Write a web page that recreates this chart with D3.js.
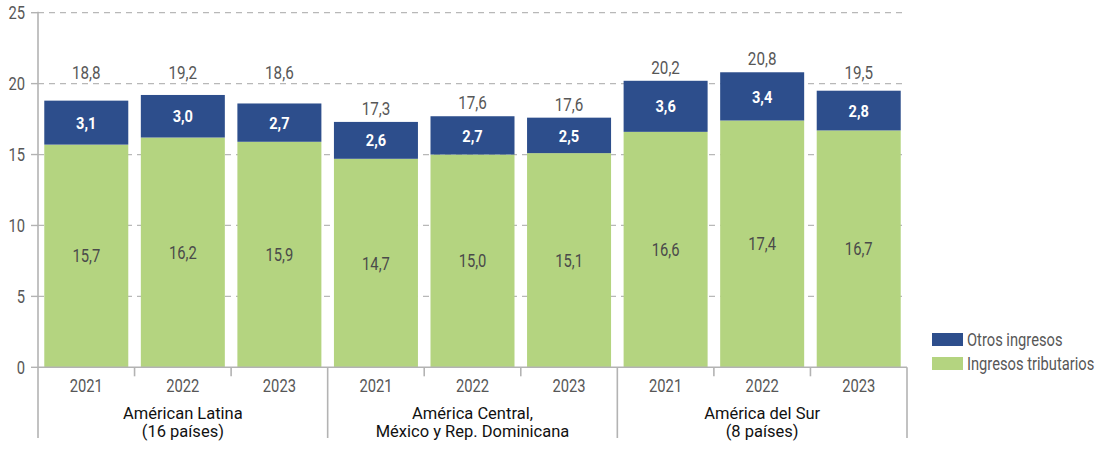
<!DOCTYPE html>
<html>
<head>
<meta charset="utf-8">
<script src="https://cdn.jsdelivr.net/npm/d3@7"></script>
<style>
  html, body { margin: 0; padding: 0; background: #fff; }
  svg { display: block; }
  .num { font-family: "Roboto", "Liberation Sans", sans-serif; }
  .grp { font-family: "Roboto", "Liberation Sans", sans-serif; }
</style>
</head>
<body>
<svg id="chart" width="1118" height="449"></svg>
<script>
// Regional groups and the years shown for each
const groups = [
  ["Américan Latina", "(16 países)"],
  ["América Central,", "México y Rep. Dominicana"],
  ["América del Sur", "(8 países)"]
];
const years = ["2021", "2022", "2023"];

// Values per bar (group order, then year order), % of GDP
const tributarios = [15.7, 16.2, 15.9, 14.7, 15.0, 15.1, 16.6, 17.4, 16.7];
const otros       = [3.1, 3.0, 2.7, 2.6, 2.7, 2.5, 3.6, 3.4, 2.8];
const totales     = [18.8, 19.2, 18.6, 17.3, 17.6, 17.6, 20.2, 20.8, 19.5];

const yTicks = [0, 5, 10, 15, 20, 25];
const seriesNames = ["Otros ingresos", "Ingresos tributarios"];

const colBlue = "#2d4e8c";
const colGreen = "#b4d480";
const colText = "#575757";
const colAxis = "#b3b3b3";

const fmt = v => d3.format(".1f")(v).replace(".", ",");

// Narrow numeric text: placed with a transform and squeezed horizontally
function narrow(sel, xf, yf, sx) {
  sel.attr("x", 0).attr("y", 0)
    .attr("transform", (d, i) => `translate(${xf(d, i)},${yf(d, i)}) scale(${sx},1)`);
}

const svg = d3.select("#chart");
const x0 = 38, x1 = 907, yBottom = 367.3, yTop = 12.7;

const rows = tributarios.map((t, i) => ({
  key: groups[Math.floor(i / 3)][0] + "|" + years[i % 3],
  year: years[i % 3],
  trib: t, otros: otros[i], total: totales[i]
}));

const xStep = d3.scaleBand().domain(rows.map(d => d.key)).range([x0, x1]).padding(0);
const xBar = d3.scaleBand().domain(rows.map(d => d.key)).range([x0, x1])
  .paddingInner(0.13).paddingOuter(0.065);
const y = d3.scaleLinear().domain([0, 25]).range([yBottom, yTop]);
const cx = d => xBar(d.data.key) + xBar.bandwidth() / 2;

// Dashed gridlines (behind bars)
svg.append("g").selectAll("line").data(yTicks.filter(v => v > 0)).join("line")
  .attr("x1", x0).attr("x2", x1 - 2)
  .attr("y1", d => y(d)).attr("y2", d => y(d))
  .attr("stroke", "#b8b8b8").attr("stroke-width", 1.3)
  .attr("stroke-dasharray", "6,5");

// Stacked bars
const stack = d3.stack().keys(["trib", "otros"]);
const layers = stack(rows);
const colors = { trib: colGreen, otros: colBlue };
svg.append("g").selectAll("g").data(layers).join("g")
  .attr("fill", d => colors[d.key])
  .selectAll("rect").data(d => d).join("rect")
  .attr("x", d => xBar(d.data.key))
  .attr("width", xBar.bandwidth())
  .attr("y", d => y(d[1]))
  .attr("height", d => y(d[0]) - y(d[1]));

// Segment labels
const lab = svg.append("g").attr("class", "num").attr("text-anchor", "middle");
lab.selectAll("text.tr").data(layers[0]).join("text")
  .attr("class", "tr").attr("dy", "0.36em")
  .attr("font-size", 18).attr("fill", "#4a4a4a")
  .text(d => fmt(d.data.trib))
  .call(narrow, cx, d => (y(d[0]) + y(d[1])) / 2, 0.82);
lab.selectAll("text.ot").data(layers[1]).join("text")
  .attr("class", "ot").attr("dy", "0.36em")
  .attr("font-size", 17).attr("font-weight", "bold").attr("fill", "#fff")
  .text(d => fmt(d.data.otros))
  .call(narrow, cx, d => (y(d[0]) + y(d[1])) / 2, 0.86);

// Totals above bars, lifted clear of the gridline at 20 when they would touch it
const grid20 = y(20);
lab.selectAll("text.tot").data(layers[1]).join("text")
  .attr("class", "tot").attr("dy", "0.36em")
  .attr("font-size", 19).attr("fill", colText)
  .text(d => fmt(d.data.total))
  .call(narrow, cx, d => {
    let c = y(d[1]) - 14;
    if (Math.abs(c - grid20) < 9) c = grid20 - 11;
    return c;
  }, 0.8);

// Y axis
const yAxis = svg.append("g");
yAxis.append("line").attr("x1", x0).attr("x2", x0).attr("y1", yTop - 1).attr("y2", 438)
  .attr("stroke", colAxis).attr("stroke-width", 1.6);
yAxis.selectAll("line.tk").data(yTicks).join("line").attr("class", "tk")
  .attr("x1", x0 - 7).attr("x2", x0).attr("y1", d => y(d)).attr("y2", d => y(d))
  .attr("stroke", colAxis).attr("stroke-width", 1.4);
yAxis.selectAll("text").data(yTicks).join("text")
  .attr("class", "num").attr("dy", "0.36em")
  .attr("text-anchor", "end").attr("font-size", 18).attr("fill", colText)
  .text(d => d)
  .call(narrow, () => 25, d => y(d), 0.82);

// X axis baseline, year ticks and group separators
const xAxis = svg.append("g");
xAxis.append("line").attr("x1", x0).attr("x2", x1).attr("y1", yBottom).attr("y2", yBottom)
  .attr("stroke", colAxis).attr("stroke-width", 1.6);
const bounds = d3.range(1, rows.length + 1).map(i => x0 + i * xStep.step());
xAxis.selectAll("line.b").data(bounds).join("line").attr("class", "b")
  .attr("x1", d => d).attr("x2", d => d)
  .attr("y1", yBottom)
  .attr("y2", (d, i) => ((i + 1) % 3 === 0 ? 438 : yBottom + 9))
  .attr("stroke", colAxis).attr("stroke-width", 1.6);

xAxis.selectAll("text.yr").data(rows).join("text").attr("class", "num yr")
  .attr("text-anchor", "middle").attr("font-size", 18).attr("fill", colText)
  .text(d => d.year)
  .call(narrow, d => xStep(d.key) + xStep.step() / 2, () => 392, 0.82);

// Two-line group names, one text element per line
groups.forEach((lines, gi) => {
  const gx = x0 + (gi * 3 + 1.5) * xStep.step();
  xAxis.selectAll(null).data(lines).join("text").attr("class", "grp")
    .attr("text-anchor", "middle").attr("font-size", 16.5).attr("fill", "#111")
    .attr("x", gx).attr("y", (d, i) => 419 + i * 18).text(d => d);
});

// Legend
const leg = svg.append("g").attr("transform", "translate(932,333)");
const legColors = [colBlue, colGreen];
const li = leg.selectAll("g").data(seriesNames).join("g")
  .attr("transform", (d, i) => `translate(0,${i * 24})`);
li.append("rect").attr("width", 31).attr("height", 13).attr("fill", (d, i) => legColors[i]);
li.append("text").attr("class", "num").attr("dy", "0.36em")
  .attr("font-size", 17.5).attr("fill", colText).text(d => d)
  .call(narrow, () => 35, () => 6.5, 0.84);
</script>
</body>
</html>
